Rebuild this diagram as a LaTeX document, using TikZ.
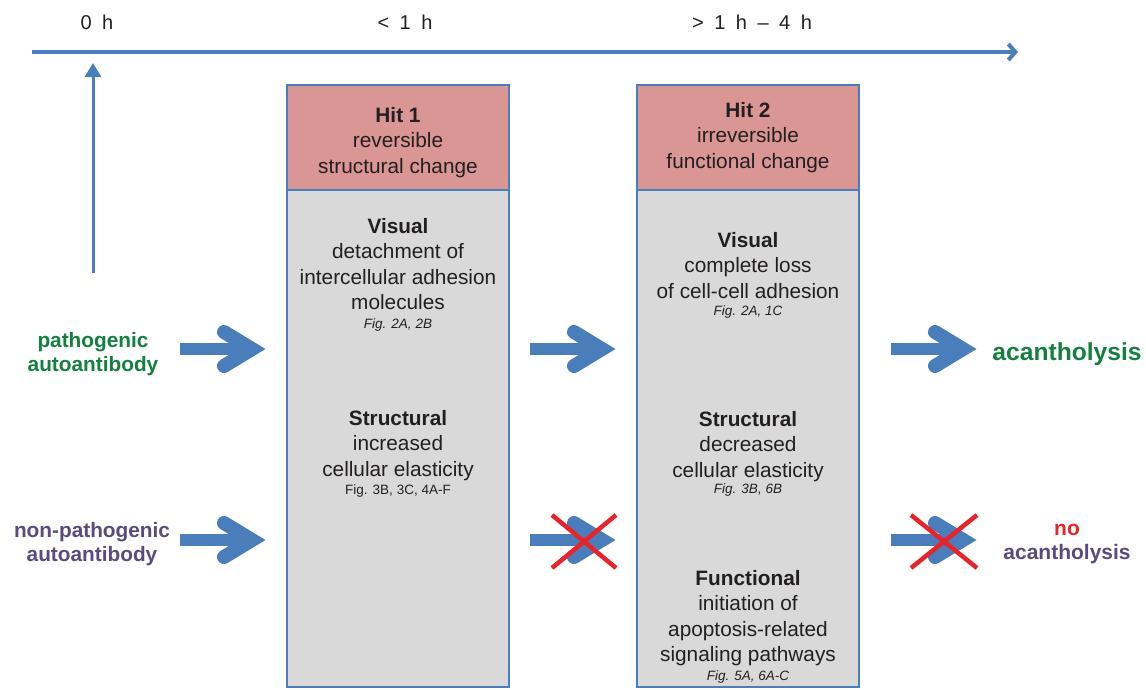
\documentclass[tikz,border=0pt]{standalone}
\usepackage{fontspec}
\setmainfont{Liberation Sans}
\usetikzlibrary{arrows.meta}
\definecolor{arr}{HTML}{4A7EBB}
\definecolor{hdr}{HTML}{D99694}
\definecolor{bod}{HTML}{D9D9D9}
\definecolor{txt}{HTML}{231F20}
\definecolor{grn}{HTML}{138040}
\definecolor{prp}{HTML}{5B4A80}
\definecolor{xred}{HTML}{E8232A}
\newcommand\tsp{\hspace{10.5pt}}
\begin{document}
\begin{tikzpicture}[x=1pt,y=-1pt,
  every node/.style={inner sep=0pt, outer sep=0pt, text=txt},
  main/.style={font=\fontsize{20.8}{25.5}\selectfont, align=center, anchor=north},
  figcap/.style={font=\fontsize{13.5}{16}\selectfont\itshape, anchor=base},
  figcapup/.style={font=\fontsize{13.5}{16}\selectfont, anchor=base},
  hdrbox/.style={draw=arr, line width=2.5pt, fill=hdr, minimum width=222pt, minimum height=105pt},
  bodybox/.style={draw=arr, line width=2.5pt, fill=bod, minimum width=222pt, minimum height=497pt},
  lbl/.style={font=\fontsize{20.8}{24}\selectfont\bfseries, align=center, anchor=north},
  tlab/.style={font=\fontsize{20}{24}\selectfont, anchor=base},
  tl/.style={draw=arr, line width=4pt, -{Straight Barb[length=7pt,width=16pt]}},
  vup/.style={draw=arr, line width=3pt, -{Triangle[length=14pt,width=16pt]}},
  xx/.style={draw=xred, line width=4.5pt},
  bigarrow/.pic={
    \draw[arr, line width=12pt] (-85,0) -- (-14,0);
    \draw[arr, line width=14pt, line cap=round] (-41,-17) -- (-13,0) -- (-41,17);
  }
]
\useasboundingbox (0,0) rectangle (1146,689);

% timeline
\coordinate (t0) at (32,52);
\coordinate (t1) at (1018,52);
\draw[tl] (t0) -- (t1);
\coordinate (v0) at (93,273);
\coordinate (v1) at (93,63);
\draw[vup] (v0) -- (v1);
\node[tlab] (l0) at (97,29) {0\tsp h};
\node[tlab] (l1) at (405,29) {<\tsp 1\tsp h};
\node[tlab] (l2) at (752,29) {>\tsp 1\tsp h\tsp –\tsp 4\tsp h};

% boxes
\node[bodybox] (b1) at (398,438.5) {};
\node[hdrbox] (h1) at (398,137.5) {};
\node[bodybox] (b2) at (748,438.5) {};
\node[hdrbox] (h2) at (748,137.5) {};

% box 1 text
\node[main] (h1t) at (398,107) {\textbf{Hit 1}\\reversible\\structural change};
\node[main] (v1t) at (398,218) {\textbf{Visual}\\detachment of\\intercellular adhesion\\molecules};
\node[figcap] (v1c) at (398,328) {Fig. 2A, 2B};
\node[main] (s1t) at (398,410) {\textbf{Structural}\\increased\\cellular elasticity};
\node[figcapup] (s1c) at (398,494) {Fig. 3B, 3C, 4A-F};

% box 2 text
\node[main] (h2t) at (748,102) {\textbf{Hit 2}\\irreversible\\functional change};
\node[main] (v2t) at (748,232) {\textbf{Visual}\\complete loss\\of cell-cell adhesion};
\node[figcap] (v2c) at (748,315) {Fig. 2A, 1C};
\node[main] (s2t) at (748,411) {\textbf{Structural}\\decreased\\cellular elasticity};
\node[figcap] (s2c) at (748,493) {Fig. 3B, 6B};
\node[main] (f2t) at (748,570) {\textbf{Functional}\\initiation of\\apoptosis-related\\signaling pathways};
\node[figcap] (f2c) at (748,680) {Fig. 5A, 6A-C};

% left labels
\node[lbl, text=grn] (pab) at (93,332) {pathogenic\\autoantibody};
\node[lbl, text=prp] (npab) at (92,522) {non-pathogenic\\autoantibody};

% right labels
\node[font=\fontsize{24.6}{28}\selectfont\bfseries, text=grn, anchor=base] (acan) at (1067,360) {acantholysis};
\node[font=\fontsize{21}{24}\selectfont\bfseries, align=center, anchor=north] (noac) at (1067,524) {\textcolor{xred}{no}\\\textcolor{prp}{acantholysis}};

% big arrows
\pic at (265,349) {bigarrow};
\pic at (615,349) {bigarrow};
\pic at (976,349) {bigarrow};
\pic at (265,540) {bigarrow};
\pic at (615,540) {bigarrow};
\pic at (976,540) {bigarrow};

% crosses
\draw[xx] (552,515) -- (616,568);
\draw[xx] (552,568) -- (616,515);
\draw[xx] (911,515) -- (977,568);
\draw[xx] (911,568) -- (977,515);
\end{tikzpicture}
\end{document}
